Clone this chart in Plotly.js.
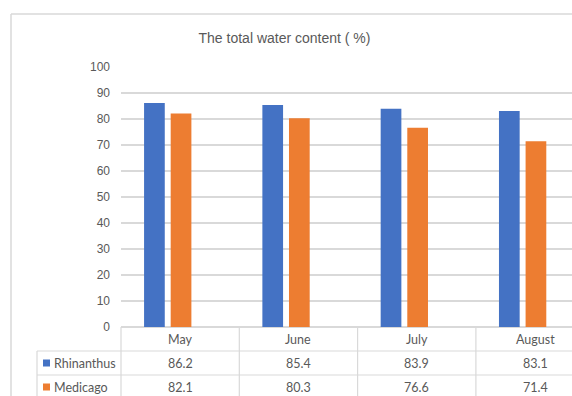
<!DOCTYPE html>
<html>
<head>
<meta charset="utf-8">
<script src="https://cdn.plot.ly/plotly-3.0.1.min.js"></script>
<style>
  html, body { margin: 0; padding: 0; background: #ffffff; }
  #chart { width: 572px; height: 396px; }
</style>
</head>
<body>
<div id="chart"></div>
<script>
// Monthly total water content (%) for two species
const months = ["May", "June", "July", "August"];
const seriesNames = ["Rhinanthus", "Medicago"];
const rhinanthus = [86.2, 85.4, 83.9, 83.1];
const medicago = [82.1, 80.3, 76.6, 71.4];
const yTicks = [0, 10, 20, 30, 40, 50, 60, 70, 80, 90, 100];

const colors = ["#4472C4", "#ED7D31"];
const seriesValues = [rhinanthus, medicago];

const W = 572, H = 396;
const M = { l: 121, r: 0, t: 67, b: 69 };
const plotW = W - M.l - M.r, plotH = H - M.t - M.b;
// pixel -> paper helpers (used for the data table under the axis)
const px = x => (x - M.l) / plotW;
const py = y => (H - M.b - y) / plotH;

const grid = "#d9d9d9";
const textCol = "#595959";
const tableFont = { family: "Lato, 'Noto Sans', sans-serif", size: 12.5, color: textCol };

const barOffsets = [-0.305, -0.08];
const traces = seriesValues.map((vals, i) => ({
  type: "bar",
  name: seriesNames[i],
  x: months,
  y: vals,
  offset: barOffsets[i],
  width: 0.175,
  marker: { color: colors[i], line: { width: 0 } },
  hoverinfo: "x+y+name"
}));

const shapes = [];
const annotations = [];

// outer chart frame
shapes.push({ type: "line", xref: "paper", yref: "paper",
  x0: px(11), x1: px(11), y0: py(14), y1: py(400),
  line: { color: grid, width: 1.5 } });
shapes.push({ type: "line", xref: "paper", yref: "paper",
  x0: px(11), x1: px(580), y0: py(14), y1: py(14),
  line: { color: grid, width: 1.5 } });

// data table: horizontal rules
const rowTop = 327, rowH = 24;
shapes.push({ type: "line", xref: "paper", yref: "paper",
  x0: px(37), x1: px(580), y0: py(rowTop + rowH), y1: py(rowTop + rowH),
  line: { color: grid, width: 1.2 } });
shapes.push({ type: "line", xref: "paper", yref: "paper",
  x0: px(37), x1: px(580), y0: py(rowTop + 2 * rowH), y1: py(rowTop + 2 * rowH),
  line: { color: grid, width: 1.2 } });
// vertical rules
shapes.push({ type: "line", xref: "paper", yref: "paper",
  x0: px(37), x1: px(37), y0: py(rowTop + rowH), y1: py(400),
  line: { color: grid, width: 1.2 } });
shapes.push({ type: "line", xref: "paper", yref: "paper",
  x0: 0, x1: 0, y0: py(rowTop), y1: py(400),
  line: { color: grid, width: 1.2 } });
for (let i = 0; i < months.length - 1; i++) {
  shapes.push({ type: "line", xref: "x", yref: "paper",
    x0: i + 0.5, x1: i + 0.5, y0: py(rowTop), y1: py(400),
    line: { color: grid, width: 1.2 } });
}

// header row: month names
months.forEach((m, i) => {
  annotations.push({ xref: "x", yref: "paper", x: i, y: py(rowTop + rowH / 2),
    text: m, showarrow: false, xanchor: "center", yanchor: "middle", font: tableFont });
});

// series rows: legend key, name and values
seriesValues.forEach((vals, s) => {
  const yc = rowTop + rowH * (s + 1) + rowH / 2;
  shapes.push({ type: "rect", xref: "paper", yref: "paper",
    x0: px(43), x1: px(50), y0: py(yc - 3.5), y1: py(yc + 3.5),
    fillcolor: colors[s], line: { width: 0 } });
  annotations.push({ xref: "paper", yref: "paper", x: px(52), y: py(yc),
    text: seriesNames[s], showarrow: false, xanchor: "left", yanchor: "middle", font: tableFont });
  vals.forEach((v, i) => {
    annotations.push({ xref: "x", yref: "paper", x: i, y: py(yc),
      text: v.toFixed(1), showarrow: false, xanchor: "center", yanchor: "middle", font: tableFont });
  });
});

const layout = {
  width: W, height: H,
  margin: M,
  paper_bgcolor: "#ffffff",
  plot_bgcolor: "#ffffff",
  showlegend: false,
  title: {
    text: "The total water content ( %)",
    xref: "container", x: 284.5 / W, xanchor: "center",
    yref: "container", y: 1 - 38 / H, yanchor: "middle",
    font: { family: "'Liberation Sans', Arial, sans-serif", size: 14, color: textCol }
  },
  xaxis: {
    type: "category",
    range: [-0.5, -0.5 + plotW / 118.3],
    showticklabels: false,
    showgrid: false,
    showline: false,
    zeroline: false,
    ticks: ""
  },
  yaxis: {
    range: [0, 100],
    tickvals: yTicks,
    ticktext: yTicks.map(String),
    showgrid: true,
    gridcolor: grid,
    gridwidth: 1.3,
    zeroline: true,
    zerolinecolor: grid,
    zerolinewidth: 1.3,
    showline: false,
    ticks: "",
    ticklabelstandoff: 10,
    tickfont: { family: "'Liberation Sans', Arial, sans-serif", size: 12, color: textCol }
  },
  shapes: shapes,
  annotations: annotations
};

Plotly.newPlot("chart", traces, layout, { displayModeBar: false, staticPlot: true });
</script>
</body>
</html>
